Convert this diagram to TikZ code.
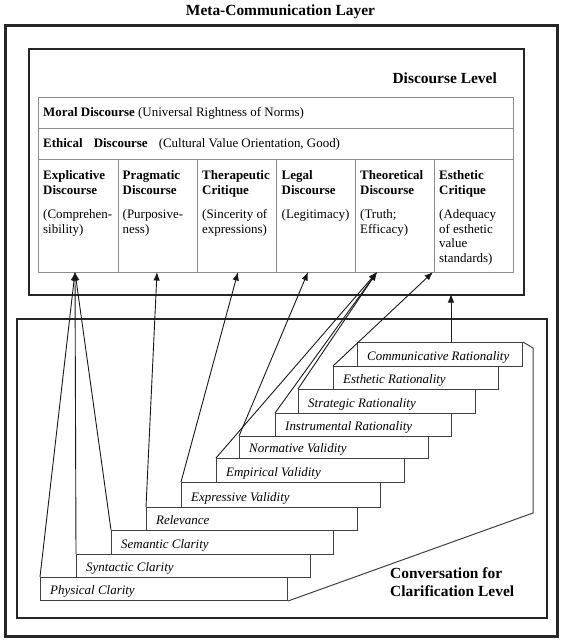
\documentclass[tikz,border=0pt]{standalone}
\usepackage{fontspec}
\setmainfont{Liberation Serif}
\usetikzlibrary{arrows.meta,calc}
\begin{document}
\begin{tikzpicture}[x=1bp,y=-1bp,
  box/.style={draw=black!85, anchor=north west, inner sep=0pt},
  outerbox/.style={box, line width=2.6bp},
  levelbox/.style={box, line width=2bp},
  tcell/.style={draw=black!45, line width=0.9bp, anchor=north west, inner sep=0pt},
  celltext/.style={anchor=north west, inner sep=0pt, align=left, font=\fontsize{13}{15}\selectfont},
  rowtext/.style={anchor=base west, inner sep=0pt, font=\fontsize{13}{15}\selectfont},
  bar/.style={draw=black!75, line width=1bp, fill=white, anchor=north west, inner sep=0pt},
  bartext/.style={anchor=base west, inner sep=0pt, font=\fontsize{13}{15}\selectfont\itshape},
  titletext/.style={inner sep=0pt, font=\fontsize{15.5}{18}\selectfont\bfseries},
  outline/.style={draw=black!75, line width=1bp},
  conn/.style={draw=black!90, line width=0.9bp, -{Latex[length=8.5bp,width=6.5bp]}},
]
\useasboundingbox (0,0) rectangle (561,640);

% outer layer
\node[titletext, anchor=base] (ttl) at (280.5,16) {Meta-Communication Layer};
\node[outerbox, minimum width=552bp, minimum height=611bp] (meta) at (4,24) {};

% discourse level
\node[levelbox, minimum width=495bp, minimum height=246bp] (disc) at (28,48) {};
\node[titletext, anchor=base east] (dlt) at (497,84) {Discourse Level};

\node[tcell, minimum width=475bp, minimum height=31bp] (moral) at (38,97) {};
\node[tcell, minimum width=475bp, minimum height=31bp] (ethic) at (38,128) {};
\node[rowtext] (moralt) at (43,116.5) {\textbf{Moral Discourse} (Universal Rightness of Norms)};
\node[rowtext] (ethict) at (43,147.5) {\textbf{Ethical\hspace{0.85em}Discourse}\hspace{0.85em}(Cultural Value Orientation, Good)};

\foreach \n/\x/\w in {c1/38/80, c2/118/79, c3/197/79, c4/276/79, c5/355/79, c6/434/79}
  \node[tcell, minimum width=\w bp, minimum height=113bp] (\n) at (\x,159) {};

\node[celltext] (c1t) at (43,170.5) {\textbf{Explicative}\\\textbf{Discourse}\\[8.5bp](Comprehen-\\sibility)};
\node[celltext] (c2t) at (122.5,170.5) {\textbf{Pragmatic}\\\textbf{Discourse}\\[8.5bp](Purposive-\\ness)};
\node[celltext] (c3t) at (202,170.5) {\textbf{Therapeutic}\\\textbf{Critique}\\[8.5bp](Sincerity of\\expressions)};
\node[celltext] (c4t) at (281.5,170.5) {\textbf{Legal}\\\textbf{Discourse}\\[8.5bp](Legitimacy)};
\node[celltext] (c5t) at (360,170.5) {\textbf{Theoretical}\\\textbf{Discourse}\\[8.5bp](Truth;\\Efficacy)};
\node[celltext] (c6t) at (439,170.5) {\textbf{Esthetic}\\\textbf{Critique}\\[8.5bp](Adequacy\\of esthetic\\value\\standards)};

% arrow targets
\coordinate (tip1) at (75,272);
\coordinate (tip2) at (157,272);
\coordinate (tip3) at (238,272);
\coordinate (tip4) at (308,272);
\coordinate (tip5) at (377,272);
\coordinate (tip6) at (433,272);
\coordinate (tip7) at (451,294);

% conversation level
\node[levelbox, minimum width=530bp, minimum height=299bp] (conv) at (16,318) {};
\node[titletext, anchor=north west, align=left] (convt) at (390,567.5) {Conversation for\\Clarification Level};

% staircase
\foreach \n/\l/\t/\w/\h/\txt in {
  phys/40/577/247/23/Physical Clarity,
  synt/76/554/234/23/Syntactic Clarity,
  sem/111/530/222/24/Semantic Clarity,
  rel/146/507/211/23/Relevance,
  expr/181/482/199/25/Expressive Validity,
  emp/216/458/188/24/Empirical Validity,
  norm/239/436/189/22/Normative Validity,
  instr/275/413/176/23/Instrumental Rationality,
  strat/298/389/177/24/Strategic Rationality,
  esth/333/366/165/23/Esthetic Rationality,
  comm/357/342/165/24/Communicative Rationality}
{
  \node[bar, minimum width=\w bp, minimum height=\h bp] (\n) at (\l,\t) {};
  \node[bartext] (\n t) at ([xshift=10bp,yshift=6.5bp]\n.south west) {\txt};
}

\coordinate (ob1) at (533,513);
\coordinate (ob2) at (533,348);
\draw[outline] (phys.south east) -- (ob1) -- (ob2) -- (comm.north east);

% connectors
\draw[conn] (phys.north west) -- (tip1);
\draw[conn] (synt.north west) -- (tip1);
\draw[conn] (sem.north west) -- (tip1);
\draw[conn] (rel.north west) -- (tip2);
\draw[conn] (expr.north west) -- (tip3);
\draw[conn] (norm.north west) -- (tip4);
\draw[conn] (emp.north west) -- (tip5);
\draw[conn] (instr.north west) -- (tip5);
\draw[conn] (strat.north west) -- (tip5);
\draw[conn] (esth.north west) -- (tip6);
\draw[conn] (comm.north -| tip7) -- (tip7);
\end{tikzpicture}
\end{document}
